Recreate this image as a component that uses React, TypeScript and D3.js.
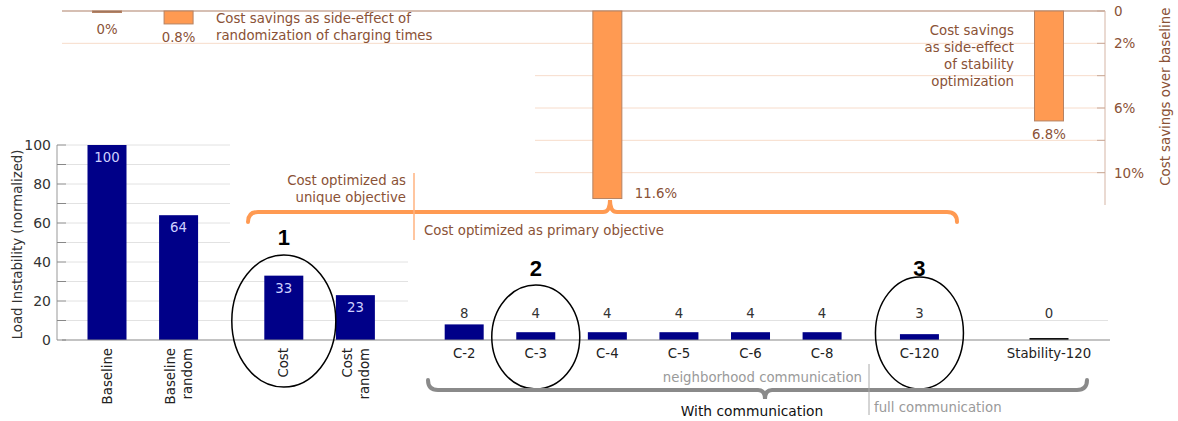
import React, { useEffect } from 'react';
import * as d3 from 'd3';

// bottom chart: load instability per strategy
const categories = [
  'Baseline', 'Baseline random', 'Cost', 'Cost random',
  'C-2', 'C-3', 'C-4', 'C-5', 'C-6', 'C-8', 'C-120', 'Stability-120',
];
const instability = [100, 64, 33, 23, 8, 4, 4, 4, 4, 4, 3, 0];
const groups = [
  ['Baseline', 'Baseline random'],
  ['Cost', 'Cost random'],
  ['C-2', 'C-3', 'C-4', 'C-5', 'C-6', 'C-8'],
  ['C-120'],
  ['Stability-120'],
];
const rotatedCats = ['Baseline', 'Baseline random', 'Cost', 'Cost random'];
const loadTicks = [0, 20, 40, 60, 80, 100];

// top chart: cost savings over baseline (hangs down from top)
const costCats = ['Baseline', 'Baseline random', 'C-4', 'Stability-120'];
const costSavings = [0, 0.8, 11.6, 6.8];
const costTicks = [0, 2, 4, 6, 8, 10];
const costTickLabels = ['0', '2%', '', '6%', '', '10%'];

// highlighted cases
const highlightCats = ['Cost', 'C-3', 'C-120'];
const highlightLabels = ['1', '2', '3'];

const W = 1178;
const H = 421;
const FONT = '"DejaVu Sans", sans-serif';
const BROWN = '#8a5236';
const ORANGE = '#ff9a52';
const NAVY = '#000088';
const GROUP_GAPS = [0, 0.47, 0.52, 0.36, 0.81];
const FS = 13.3;

export default function App() {
  useEffect(() => {
    document.body.style.margin = '0';
  }, []);

  // slot positions with gaps between groups
  const slotOf = new Map<string, number>();
  let s = 0;
  groups.forEach((g, gi) => {
    s += GROUP_GAPS[gi];
    g.forEach((c) => {
      slotOf.set(c, s);
      s += 1;
    });
  });
  const maxSlot = s - 1;
  const x = d3.scaleLinear().domain([0, maxSlot]).range([107, 1049]);
  const cx = (c: string) => x(slotOf.get(c) || 0);
  const barW = 39;

  const yLoad = d3.scaleLinear().domain([0, 100]).range([340, 145]);
  const yCost = d3.scaleLinear().domain([0, 12]).range([11, 205]);

  // curly brace: ends bent towards yEnd, cusp pointing to tipY
  const brace = (x0: number, x1: number, y: number, yEnd: number, tipX: number, tipY: number) => {
    const r = 10;
    const k = 7;
    return [
      `M${x0},${yEnd}`,
      `Q${x0},${y} ${x0 + r},${y}`,
      `H${tipX - k}`,
      `Q${tipX},${y} ${tipX},${tipY}`,
      `Q${tipX},${y} ${tipX + k},${y}`,
      `H${x1 - r}`,
      `Q${x1},${y} ${x1},${yEnd}`,
    ].join(' ');
  };

  const minorLoad = d3.range(0, 101, 10);

  return (
    <svg width={W} height={H} style={{ display: 'block', fontFamily: FONT }}>
      <rect width={W} height={H} fill="#fff" />

      {/* ---------- top cost chart ---------- */}
      {costTicks.slice(1).map((t) => (
        <line key={'cg' + t} x1={t === 2 ? 62 : 535} x2={1105} y1={yCost(t)} y2={yCost(t)}
          stroke="#f7dccb" strokeWidth={1} />
      ))}
      <line x1={62} x2={1105} y1={yCost(0)} y2={yCost(0)} stroke="#c9aa9a" strokeWidth={1.5} />
      <line x1={1105} x2={1105} y1={yCost(0)} y2={yCost(12)} stroke="#dcc2b4" strokeWidth={1.2} />
      {costTicks.map((t, i) => (
        <g key={'ct' + t}>
          <line x1={1097} x2={1105} y1={yCost(t)} y2={yCost(t)} stroke="#c9aa9a" />
          <text x={1114} y={yCost(t) + 5} fontSize={13.5} fill={BROWN}>{costTickLabels[i]}</text>
        </g>
      ))}
      <text transform={`translate(1170,${yCost(5.3)}) rotate(-90)`} textAnchor="middle"
        fontSize={FS} fill={BROWN}>Cost savings over baseline</text>

      {costCats.map((c, i) => {
        const v = costSavings[i];
        const w = 29;
        const bx = cx(c) - w / 2;
        const h = yCost(v) - yCost(0);
        const side = v > 10;
        return (
          <g key={'cb' + c}>
            <rect x={bx} y={yCost(0)} width={w} height={Math.max(h, 1.5)}
              fill={v === 0 ? '#8a6a5a' : ORANGE} stroke="#b58263" strokeWidth={1} />
            <text x={side ? bx + w + 13 : cx(c)} y={side ? yCost(v) - 1 : yCost(v) + (v === 0 ? 23 : 18)}
              textAnchor={side ? 'start' : 'middle'} fontSize={FS} fill={BROWN}>{v + '%'}</text>
          </g>
        );
      })}
      <text x={216} y={23} fontSize={FS} fill={BROWN}>Cost savings as side-effect of</text>
      <text x={216} y={40} fontSize={FS} fill={BROWN}>randomization of charging times</text>
      {['Cost savings', 'as side-effect', 'of stability', 'optimization'].map((t, i) => (
        <text key={t} x={1014} y={35 + i * 17} textAnchor="end" fontSize={FS} fill={BROWN}>{t}</text>
      ))}

      {/* orange brace for cost-optimized strategies */}
      <path d={brace(248, 957, 212, 222, 610, 200)} fill="none" stroke={ORANGE} strokeWidth={4}
        strokeLinecap="round" />
      <line x1={414} x2={414} y1={173} y2={240} stroke="#ffb381" strokeWidth={1.5} />
      <text x={406} y={185} textAnchor="end" fontSize={FS} fill={BROWN}>Cost optimized as</text>
      <text x={406} y={202} textAnchor="end" fontSize={FS} fill={BROWN}>unique objective</text>
      <text x={424} y={235} fontSize={FS} fill={BROWN}>Cost optimized as primary objective</text>

      {/* ---------- bottom load instability chart ---------- */}
      {minorLoad.slice(1).map((t) => (
        <line key={'lg' + t} x1={66} x2={t >= 50 ? 230 : 408} y1={yLoad(t)} y2={yLoad(t)}
          stroke="#e2e2e2" strokeWidth={1} />
      ))}
      <line x1={408} x2={1108} y1={yLoad(10)} y2={yLoad(10)} stroke="#e2e2e2" strokeWidth={1} />
      <line x1={57} x2={57} y1={yLoad(0)} y2={yLoad(100)} stroke="#999" strokeWidth={1} />
      {minorLoad.map((t) => (
        <line key={'lt' + t} x1={57} x2={66} y1={yLoad(t)} y2={yLoad(t)} stroke="#888" strokeWidth={1} />
      ))}
      {loadTicks.map((t) => (
        <text key={'ll' + t} x={51} y={yLoad(t) + 5} textAnchor="end" fontSize={14} fill="#333">{t}</text>
      ))}
      <text transform={`translate(22,${yLoad(49)}) rotate(-90)`} textAnchor="middle" fontSize={FS}
        fill="#333">Load Instability (normalized)</text>

      {categories.map((c, i) => {
        const v = instability[i];
        const bx = cx(c) - barW / 2;
        const top = yLoad(v);
        const inside = v > 20;
        return (
          <g key={'b' + c}>
            <rect x={bx} y={v === 0 ? yLoad(0) - 2 : top} width={barW}
              height={v === 0 ? 2 : yLoad(0) - top} fill={v === 0 ? '#111' : NAVY} />
            <text x={cx(c)} y={inside ? top + 17 : 318} textAnchor="middle" fontSize={FS}
              fill={inside ? '#cfd0ff' : '#333'}>{v}</text>
          </g>
        );
      })}
      <line x1={62} x2={1110} y1={yLoad(0)} y2={yLoad(0)} stroke="#888" strokeWidth={1.2} />

      {categories.map((c) => {
        if (rotatedCats.includes(c)) {
          const lines = c.split(' ');
          return (
            <g key={'xl' + c}>
              {lines.map((ln, li) => (
                <text key={ln}
                  transform={`translate(${cx(c) + (li - (lines.length - 1) / 2) * 17},348) rotate(-90)`}
                  textAnchor="end" dy="0.35em" fontSize={FS} fill="#222">{ln}</text>
              ))}
            </g>
          );
        }
        return (
          <text key={'xl' + c} x={cx(c)} y={358} textAnchor="middle" fontSize={FS} fill="#222">{c}</text>
        );
      })}

      {/* highlighted cases */}
      {highlightCats.map((c, i) => {
        const first = i === 0;
        return (
          <g key={'h' + c}>
            <ellipse cx={cx(c)} cy={first ? 321 : i === 1 ? 337 : 333} rx={first ? 52 : 44}
              ry={first ? 66 : i === 1 ? 52 : 56} fill="none" stroke="#000" strokeWidth={1.5} />
            <text x={cx(c)} y={first ? 245 : 276} textAnchor="middle" fontSize={22} fontWeight="bold"
              fontFamily='"Liberation Sans", Arial, sans-serif' fill="#000">{highlightLabels[i]}</text>
          </g>
        );
      })}

      {/* gray brace for communication strategies */}
      <path d={brace(428, 1087, 390, 380, 765, 399)} fill="none" stroke="#8a8a8a" strokeWidth={4}
        strokeLinecap="round" />
      <line x1={869} x2={869} y1={364} y2={415} stroke="#aaa" strokeWidth={1} />
      <text x={862} y={382} textAnchor="end" fontSize={FS} fill="#9a9a9a">neighborhood communication</text>
      <text x={874} y={412} fontSize={FS} fill="#9a9a9a">full communication</text>
      <text x={752} y={416} textAnchor="middle" fontSize={13.8} fill="#111">With communication</text>
    </svg>
  );
}
